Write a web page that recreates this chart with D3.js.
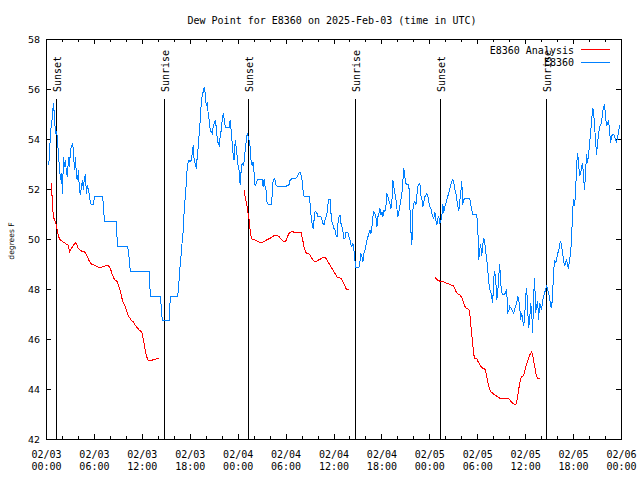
<!DOCTYPE html>
<html><head><meta charset="utf-8">
<script src="https://cdn.jsdelivr.net/npm/d3@7"></script>
<style>body{margin:0;background:#fff}svg{display:block}</style>
</head><body><svg id="c" width="640" height="480"></svg>
<script>
const chartTitle = "Dew Point for E8360 on 2025-Feb-03 (time in UTC)";
const yLabel = "degrees F";
const seriesNames = ["E8360 Analysis", "E8360"];
const seriesColors = ["#ff0000", "#0080ff"];
const startUTC = "2025-02-03T00:00:00Z", endUTC = "2025-02-06T00:00:00Z";
const yDomain = [42, 58];
const yTicks = [42, 44, 46, 48, 50, 52, 54, 56, 58];
const sunEventHours = [1.29, 14.79, 25.29, 38.66, 49.34, 62.66];
const sunEventLabels = ["Sunset", "Sunrise", "Sunset", "Sunrise", "Sunset", "Sunrise"];

// observations (E8360), one every 7.5 minutes starting 00:15 UTC
const obsStartHour = 0.25, sampleStepHours = 0.125;
const obsValuesDay1 = [
52.97,53.31,54.37,54.51,55.04,55.44,54.91,54.24,54.31,54.04,
53.31,52.91,52.37,52.64,51.84,53.31,52.91,53.17,52.64,52.51,
53.31,52.91,53.57,53.71,53.84,53.57,52.77,53.31,52.51,52.37,
52.77,51.97,51.77,52.11,52.37,51.97,52.51,52.57,51.84,52.17,
51.97,51.77,51.44,51.40,51.40,51.40,51.73,51.73,51.73,51.73,
51.73,51.73,51.73,51.73,51.73,51.41,50.72,50.72,50.72,50.72,
50.72,50.72,50.72,50.72,50.72,50.72,50.72,50.72,50.72,49.73,
49.73,49.73,49.73,49.73,49.73,49.73,49.73,49.73,49.73,49.71,
49.57,49.17,48.71,48.71,48.71,48.71,48.71,48.71,48.71,48.71,
48.71,48.71,48.71,48.71,48.71,48.71,48.71,48.71,48.71,48.71,
48.71,48.71,47.71,47.71,47.71,47.71,47.71,47.71,47.71,47.71,
47.71,47.71,47.71,47.31,46.75,46.75,46.75,46.75,46.75,46.75,
46.75,46.75,47.71,47.71,47.71,47.71,47.71,47.71,47.71,47.71,
47.91,48.51,49.04,49.44,49.97,50.37,51.24,51.71,52.24,52.91,
53.11,53.17,53.11,53.17,53.44,53.77,53.11,53.04,52.84,53.31,
53.71,54.24,54.77,55.44,55.77,55.91,56.08,55.84,55.37,55.44,
55.04,54.77,54.37,54.31,54.24,54.51,54.64,54.77,54.51,54.04,
53.84,53.77,54.11,54.37,54.77,55.04,54.84,54.51,54.47,54.47,
54.47,54.47,54.77,54.37,53.84,53.37,53.17,53.97,53.71,53.31,
52.91,52.77,52.17,52.77,53.04,52.97];
const obsValuesDay2 = [
53.11,53.57,53.91,54.24,54.11,53.97,53.71,53.11,52.97,53.11,
52.64,52.13,52.24,52.37,52.40,52.40,52.40,52.40,52.40,52.11,
52.40,52.11,51.97,51.44,51.41,51.41,51.41,51.41,51.71,52.37,
52.44,52.37,52.17,52.13,52.13,52.13,52.13,52.13,52.13,52.13,
52.13,52.13,52.13,52.16,52.17,52.21,52.37,52.41,52.43,52.43,
52.43,52.43,52.45,52.51,52.57,52.68,52.71,52.57,52.37,51.97,
51.72,51.72,51.72,51.72,51.72,51.72,51.44,50.97,50.64,50.44,
50.77,51.11,51.11,51.04,50.91,50.91,50.91,50.91,50.77,50.64,
50.57,50.77,50.91,51.04,51.44,51.60,51.60,51.04,50.71,50.57,
50.44,50.37,50.17,50.11,50.64,50.91,50.97,50.64,50.51,50.31,
50.04,50.04,50.31,50.27,50.27,50.11,49.97,49.77,49.73,49.84,
49.57,49.17,48.88,48.88,48.88,48.88,49.11,49.44,49.31,49.11,
49.44,49.57,49.77,49.97,50.11,50.24,50.37,50.24,50.51,50.91,
51.11,51.04,50.91,50.51,50.91,51.04,51.24,50.97,51.11,50.91,
51.17,51.11,51.31,51.84,51.71,51.57,51.44,51.24,51.51,52.37,
52.11,51.84,51.64,51.24,50.91,51.11,51.37,51.57,51.84,52.37,
52.84,52.51,52.24,52.21,52.21,52.17,51.31,50.37,49.77,51.17,
51.44,51.51,51.37,51.77,52.11,52.21,52.24,51.77,51.64,51.31,
51.51,51.71,51.77,51.84,51.73,51.51,51.31,51.24,51.04,50.91,
50.84,51.11,50.77,50.57,50.84,50.91];
const obsValuesDay3 = [
50.67,50.73,50.93,51.40,51.07,51.33,51.40,51.60,51.73,51.87,
52.00,52.20,52.33,52.40,52.27,52.00,51.87,51.60,51.33,51.13,
51.53,51.87,52.33,51.40,51.60,51.63,51.63,51.63,51.63,51.63,
51.63,51.40,51.20,51.00,51.00,51.00,51.00,51.00,50.53,49.20,
49.60,49.80,49.33,49.80,50.07,49.87,49.53,49.20,48.80,48.33,
48.00,47.93,47.67,47.47,48.47,48.73,48.40,47.60,47.87,48.53,
49.00,48.27,47.87,47.80,47.80,47.80,47.93,48.00,47.07,47.13,
47.33,47.27,47.20,47.13,47.04,47.20,47.33,47.47,47.73,47.60,
47.33,46.80,47.07,46.80,46.53,46.87,47.73,48.07,47.20,46.47,
46.80,47.47,47.13,46.27,47.73,48.47,47.07,47.33,47.53,46.80,
47.47,47.33,47.20,47.53,47.73,47.87,48.00,48.13,48.00,47.87,
47.67,47.33,47.27,47.80,48.73,49.13,49.07,49.20,49.47,49.47,
49.80,49.93,49.73,49.47,49.13,48.93,49.07,49.20,48.93,48.87,
49.20,49.47,50.00,51.13,51.60,51.33,51.87,52.93,53.47,53.07,
52.53,52.67,52.87,53.07,52.47,52.00,52.67,53.40,53.07,53.40,
53.80,54.27,54.67,55.27,55.13,54.53,54.00,53.40,53.87,54.20,
54.47,54.60,54.67,55.07,55.27,55.40,54.93,54.53,54.67,54.73,
54.40,53.87,54.13,54.20,54.20,54.13,54.00,53.87,54.07,54.27,
54.56,54.53];

// analysis (E8360 Analysis), three runs, same 7.5-minute spacing
const anaRun1Start = 0.625;
const anaRun1 = [
52.24,51.31,50.91,50.77,50.71,50.51,50.31,50.13,50.04,49.97,
49.95,49.91,49.88,49.87,49.84,49.81,49.80,49.75,49.51,49.57,
49.64,49.71,49.77,49.81,49.87,49.84,49.71,49.64,49.60,49.57,
49.55,49.51,49.51,49.51,49.47,49.37,49.31,49.21,49.13,49.07,
49.01,49.01,48.99,48.97,48.96,48.93,48.91,48.88,48.88,48.88,
48.89,48.91,48.91,48.93,48.95,48.96,48.96,48.95,48.91,48.84,
48.71,48.57,48.51,48.40,48.37,48.35,48.31,48.17,48.04,47.95,
47.77,47.57,47.44,47.40,47.31,47.17,47.04,46.97,46.88,46.84,
46.75,46.73,46.71,46.64,46.57,46.51,46.47,46.43,46.37,46.35,
46.31,46.24,46.00,45.77,45.57,45.37,45.24,45.15,45.15,45.15,
45.15,45.17,45.20,45.20,45.21,45.23,45.24,45.24,45.24];
const anaRun2Start = 24.75;
const anaRun2 = [
51.97,51.71,51.51,51.31,51.04,50.77,50.37,50.11,50.00,50.00,
50.00,49.97,49.95,49.93,49.91,49.89,49.88,49.87,49.88,49.91,
49.92,49.95,49.97,50.00,50.01,50.03,50.04,50.08,50.11,50.13,
50.16,50.17,50.17,50.16,50.13,50.11,50.05,50.01,49.97,49.93,
49.91,49.91,49.97,50.08,50.17,50.24,50.28,50.31,50.31,50.31,
50.29,50.29,50.29,50.29,50.29,50.28,50.28,50.27,50.11,49.91,
49.71,49.57,49.47,49.44,49.44,49.41,49.37,49.31,49.24,49.17,
49.13,49.11,49.11,49.13,49.17,49.20,49.21,49.24,49.27,49.28,
49.27,49.28,49.24,49.17,49.11,49.04,48.97,48.91,48.84,48.77,
48.71,48.64,48.57,48.51,48.48,48.47,48.47,48.44,48.37,48.31,
48.21,48.13,48.04,48.00,48.00,48.00];
const anaRun3Start = 48.625;
const anaRun3 = [
48.40,48.47,48.40,48.37,48.36,48.33,48.32,48.31,48.31,48.31,
48.29,48.27,48.25,48.24,48.23,48.20,48.19,48.17,48.17,48.13,
48.03,47.93,47.87,47.84,47.80,47.79,47.73,47.67,47.56,47.44,
47.33,47.27,47.24,47.23,47.20,47.07,46.60,46.20,45.80,45.40,
45.25,45.25,45.23,45.13,45.07,45.00,44.93,44.88,44.85,44.85,
44.83,44.72,44.53,44.33,44.13,44.00,43.92,43.88,43.85,43.81,
43.79,43.76,43.73,43.71,43.68,43.65,43.64,43.64,43.64,43.64,
43.64,43.64,43.64,43.64,43.63,43.59,43.53,43.49,43.45,43.43,
43.40,43.39,43.51,43.73,44.00,44.24,44.45,44.51,44.53,44.59,
44.72,44.91,45.04,45.12,45.25,45.37,45.44,45.52,45.40,45.13,
44.93,44.69,44.53,44.44,44.43,44.43];

// ---------- drawing ----------
const MONO = "'DejaVu Sans Mono', 'Liberation Mono', monospace";
const SANS = "'DejaVu Sans', sans-serif";
const t0 = new Date(startUTC), t1 = new Date(endUTC);
const atHour = h => new Date(t0.getTime() + h * 3600e3);
const toPoints = (start, vals) => vals.map((v, i) => ({t: atHour(start + i * sampleStepHours), v}));

const obsPoints = toPoints(obsStartHour, obsValuesDay1.concat(obsValuesDay2, obsValuesDay3));
const anaRuns = [toPoints(anaRun1Start, anaRun1), toPoints(anaRun2Start, anaRun2), toPoints(anaRun3Start, anaRun3)];

const svg = d3.select("#c");
const x = d3.scaleUtc().domain([t0, t1]).range([46, 621]);
const y = d3.scaleLinear().domain(yDomain).range([439, 39]);

// title
svg.append("text").attr("x", 332).attr("y", 23.5).attr("text-anchor", "middle")
  .style("font-family", MONO).style("font-size", "10px").text(chartTitle);

// axes (ticks point inward, gnuplot style)
const majorX = d3.utcHour.every(6).range(t0, d3.utcHour.offset(t1, 1));
const minorX = d3.utcHour.every(2).range(t0, d3.utcHour.offset(t1, 1));
function styleAxis(g){ g.selectAll("path,line").attr("stroke", "#000").attr("shape-rendering", "crispEdges"); g.selectAll("text").remove(); }
svg.append("g").attr("transform", "translate(0,439)").call(d3.axisBottom(x).tickValues(minorX).tickSize(-3).tickSizeOuter(0)).call(styleAxis);
svg.append("g").attr("transform", "translate(0,439)").call(d3.axisBottom(x).tickValues(majorX).tickSize(-5).tickSizeOuter(0)).call(styleAxis);
svg.append("g").attr("transform", "translate(0,39)").call(d3.axisTop(x).tickValues(minorX).tickSize(-3).tickSizeOuter(0)).call(styleAxis);
svg.append("g").attr("transform", "translate(0,39)").call(d3.axisTop(x).tickValues(majorX).tickSize(-5).tickSizeOuter(0)).call(styleAxis);
svg.append("g").attr("transform", "translate(46,0)").call(d3.axisLeft(y).tickValues(yTicks).tickSize(-5).tickSizeOuter(0)).call(styleAxis);
svg.append("g").attr("transform", "translate(621,0)").call(d3.axisRight(y).tickValues(yTicks).tickSize(-5).tickSizeOuter(0)).call(styleAxis);

// y tick labels
svg.append("g").selectAll("text").data(yTicks).join("text")
  .attr("x", 40).attr("y", d => y(d) + 0.5).attr("dy", "0.36em").attr("text-anchor", "end")
  .style("font-family", SANS).style("font-size", "9.5px").text(d => d);

// x tick labels (two lines)
const fmtDay = d3.utcFormat("%m/%d"), fmtTime = d3.utcFormat("%H:%M");
const xl = svg.append("g").selectAll("text").data(majorX).join("text")
  .attr("text-anchor", "middle").style("font-family", MONO).style("font-size", "10px");
xl.append("tspan").attr("x", d => x(d) + 0.5).attr("y", 457.5).text(fmtDay);
xl.append("tspan").attr("x", d => x(d) + 0.5).attr("y", 470).text(fmtTime);

// y label
svg.append("text").attr("transform", "translate(13.5,241) rotate(-90)").attr("text-anchor", "middle")
  .style("font-family", SANS).style("font-size", "7.6px").text(yLabel);

// sunrise / sunset markers
const ev = svg.append("g").selectAll("g").data(sunEventHours.map((h, i) => ({t: atHour(h), label: sunEventLabels[i]}))).join("g");
ev.append("line").attr("x1", d => Math.round(x(d.t)) + 0.5).attr("x2", d => Math.round(x(d.t)) + 0.5)
  .attr("y1", 99).attr("y2", 439).attr("stroke", "#000").attr("shape-rendering", "crispEdges");
ev.append("text").attr("transform", d => `translate(${Math.round(x(d.t)) + 5},92) rotate(-90)`)
  .style("font-family", MONO).style("font-size", "10px").text(d => d.label);

// data lines
const line = d3.line().x(d => x(d.t) + 0.5).y(d => y(d.v) + 0.5);
svg.append("g").selectAll("path").data(anaRuns).join("path")
  .attr("d", line).attr("fill", "none").attr("stroke", seriesColors[0]).attr("stroke-width", 1)
  .attr("shape-rendering", "crispEdges");
svg.append("path").datum(obsPoints).attr("d", line).attr("fill", "none")
  .attr("stroke", seriesColors[1]).attr("stroke-width", 1).attr("shape-rendering", "crispEdges");

// legend
const lg = svg.append("g").selectAll("g").data(seriesNames).join("g");
lg.append("text").attr("x", 574).attr("y", (d, i) => 53.5 + i * 12.7).attr("text-anchor", "end")
  .style("font-family", MONO).style("font-size", "10px").text(d => d);
lg.append("line").attr("x1", 581).attr("x2", 610).attr("y1", (d, i) => 49.5 + i * 13).attr("y2", (d, i) => 49.5 + i * 13)
  .attr("stroke", (d, i) => seriesColors[i]).attr("shape-rendering", "crispEdges");
</script></body></html>
